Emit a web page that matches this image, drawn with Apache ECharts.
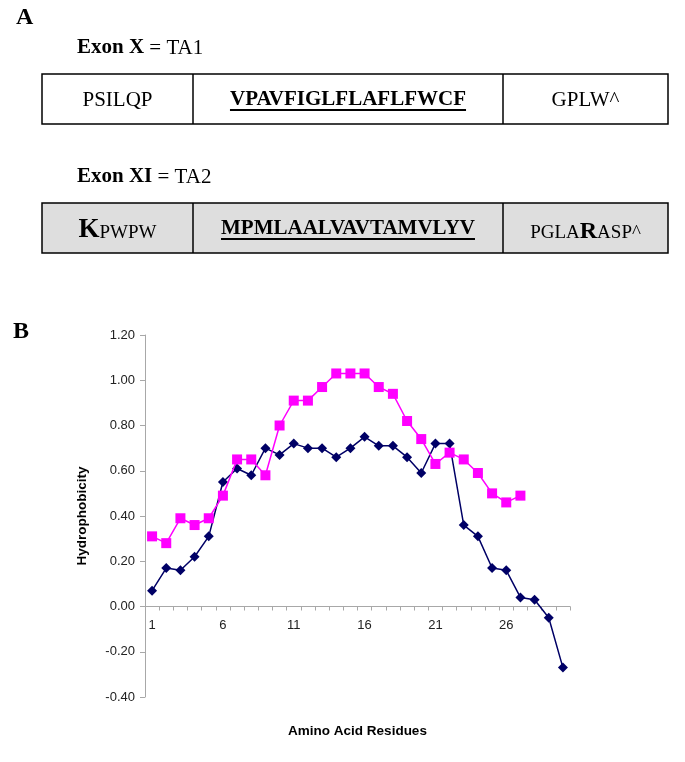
<!DOCTYPE html>
<html><head><meta charset="utf-8">
<script src="https://cdn.jsdelivr.net/npm/echarts@6/dist/echarts.min.js"></script>
<style>html,body{margin:0;padding:0;background:#fff}#c{width:685px;height:762px}</style>
</head><body><div id="c"></div>
<script>
// ---- Data ----
const residues = ['1','2','3','4','5','6','7','8','9','10','11','12','13','14','15','16','17','18','19','20','21','22','23','24','25','26','27','28','29','30'];
const blueValues = [0.07,0.17,0.16,0.22,0.31,0.55,0.61,0.58,0.70,0.67,0.72,0.70,0.70,0.66,0.70,0.75,0.71,0.71,0.66,0.59,0.72,0.72,0.36,0.31,0.17,0.16,0.04,0.03,-0.05,-0.27];
const pinkValues = [0.31,0.28,0.39,0.36,0.39,0.49,0.65,0.65,0.58,0.80,0.91,0.91,0.97,1.03,1.03,1.03,0.97,0.94,0.82,0.74,0.63,0.68,0.65,0.59,0.50,0.46,0.49];
const yMin = -0.4, yMax = 1.2, yStep = 0.2;
const exon1Title = ['Exon X', ' = TA1'];
const exon1Cells = ['PSILQP', 'VPAVFIGLFLAFLFWCF', 'GPLW^'];
const exon2Title = ['Exon XI', ' = TA2'];
const exon2Left = ['K', 'PWPW'];
const exon2Mid = 'MPMLAALVAVTAMVLYV';
const exon2Right = ['PGLA', 'R', 'ASP^'];

// ---- Panel A drawing ----
const SERIF = '"Liberation Serif", "Times New Roman", serif';
const SANS = '"Liberation Sans", Arial, Helvetica, sans-serif';
const ctx = document.createElement('canvas').getContext('2d');
function textW(t, font){ ctx.font = font; return ctx.measureText(t).width; }

const boxL = 42, boxR = 668, div1 = 193, div2 = 503;
const row1Top = 74, row2Top = 203, rowH = 50;
const c1 = (boxL+div1)/2, c2 = (div1+div2)/2, c3 = (div2+boxR)/2;

const g = [];
g.push({type:'text', style:{text:'A', x:16, y:18, font:'bold 24px '+SERIF, fill:'#000', verticalAlign:'middle'}});
g.push({type:'text', style:{text:'B', x:13, y:332, font:'bold 24px '+SERIF, fill:'#000', verticalAlign:'middle'}});

function titleText(parts, y){
  return {type:'text', style:{text:'{b|'+parts[0]+'}{n|'+parts[1]+'}', x:77, y:y, verticalAlign:'middle',
    rich:{b:{font:'bold 21px '+SERIF, fill:'#000'}, n:{font:'21px '+SERIF, fill:'#000'}}}};
}
g.push(titleText(exon1Title, 48));
g.push(titleText(exon2Title, 177));

function box(top, fill){
  g.push({type:'rect', shape:{x:boxL, y:top, width:boxR-boxL, height:rowH}, style:{fill:fill, stroke:'#000', lineWidth:1.5}});
  g.push({type:'line', shape:{x1:div1, y1:top, x2:div1, y2:top+rowH}, style:{stroke:'#000', lineWidth:1.5}});
  g.push({type:'line', shape:{x1:div2, y1:top, x2:div2, y2:top+rowH}, style:{stroke:'#000', lineWidth:1.5}});
}
box(row1Top, '#fff');
box(row2Top, '#dedede');

// row 1 texts
const r1y = row1Top + rowH/2 + 1;
g.push({type:'text', style:{text:exon1Cells[0], x:c1, y:r1y, font:'21px '+SERIF, fill:'#000', align:'center', verticalAlign:'middle'}});
g.push({type:'text', style:{text:exon1Cells[1], x:c2, y:r1y, font:'bold 21px '+SERIF, fill:'#000', align:'center', verticalAlign:'middle'}});
g.push({type:'text', style:{text:exon1Cells[2], x:c3, y:r1y, font:'21px '+SERIF, fill:'#000', align:'center', verticalAlign:'middle'}});
const u1 = textW(exon1Cells[1], 'bold 21px '+SERIF);
g.push({type:'line', shape:{x1:c2-u1/2, y1:r1y+10, x2:c2+u1/2, y2:r1y+10}, style:{stroke:'#000', lineWidth:2}});

// row 2 texts
const r2y = row2Top + rowH/2 + 1;
const rich2 = {
  big:{font:'bold 27px '+SERIF, fill:'#000', verticalAlign:'bottom', lineHeight:30},
  sm:{font:'19px '+SERIF, fill:'#000', verticalAlign:'bottom', lineHeight:30, padding:[0,0,1,0]}
};
g.push({type:'text', style:{text:'{big|'+exon2Left[0]+'}{sm|'+exon2Left[1]+'}', x:c1, y:r2y, align:'center', verticalAlign:'middle', rich:rich2}});
g.push({type:'text', style:{text:exon2Mid, x:c2, y:r2y, font:'bold 21px '+SERIF, fill:'#000', align:'center', verticalAlign:'middle'}});
const u2 = textW(exon2Mid, 'bold 21px '+SERIF);
g.push({type:'line', shape:{x1:c2-u2/2, y1:r2y+10, x2:c2+u2/2, y2:r2y+10}, style:{stroke:'#000', lineWidth:2}});
g.push({type:'text', style:{text:'{sm|'+exon2Right[0]+'}{big|'+exon2Right[1]+'}{sm|'+exon2Right[2]+'}', x:c3, y:r2y, align:'center', verticalAlign:'middle',
  rich:{big:{font:'bold 24px '+SERIF, fill:'#000', verticalAlign:'bottom', lineHeight:30}, sm:rich2.sm}}});

// ---- Chart ----
const gridTop = 335, gridBottom = 65, gridH = 762 - gridTop - gridBottom;
const zeroOffset = -gridH * (0 - yMin) / (yMax - yMin); // lift x axis to the zero line
const chart = echarts.init(document.getElementById('c'), null, {renderer:'canvas'});
chart.setOption({
  backgroundColor:'#fff',
  animation:false,
  grid:{left:145, right:115, top:gridTop, bottom:gridBottom, containLabel:false, outerBoundsMode:'none'},
  xAxis:{
    type:'category', data:residues, boundaryGap:true, offset:zeroOffset,
    name:'Amino Acid Residues', nameLocation:'middle', nameGap:118,
    nameTextStyle:{fontFamily:SANS, fontWeight:'bold', fontSize:13.5, color:'#000'},
    axisLine:{onZero:false, lineStyle:{color:'#a8a8a8', width:1}},
    axisTick:{show:true, interval:0, length:4, inside:false, lineStyle:{color:'#a8a8a8'}},
    axisLabel:{interval:4, margin:12, fontFamily:SANS, fontSize:13, color:'#222'},
    splitLine:{show:false}
  },
  yAxis:{
    type:'value', min:yMin, max:yMax, interval:yStep,
    name:'Hydrophobicity', nameLocation:'middle', nameGap:56, nameRotate:90,
    nameTextStyle:{fontFamily:SANS, fontWeight:'bold', fontSize:13.5, color:'#000'},
    axisLine:{show:true, lineStyle:{color:'#a8a8a8', width:1}},
    axisTick:{show:true, length:5, lineStyle:{color:'#a8a8a8'}},
    axisLabel:{margin:10, fontFamily:SANS, fontSize:13, color:'#222', formatter:v=>v.toFixed(2)},
    splitLine:{show:false}
  },
  series:[
    {type:'line', name:'Series 1', data:blueValues, symbol:'diamond', symbolSize:10, showAllSymbol:true,
      itemStyle:{color:'#000066'}, lineStyle:{color:'#000066', width:1.5}, z:2},
    {type:'line', name:'Series 2', data:pinkValues, symbol:'rect', symbolSize:10, showAllSymbol:true,
      itemStyle:{color:'#ff00ff'}, lineStyle:{color:'#ff00ff', width:1.5}, z:3}
  ],
  graphic:g
});
</script>
</body></html>
